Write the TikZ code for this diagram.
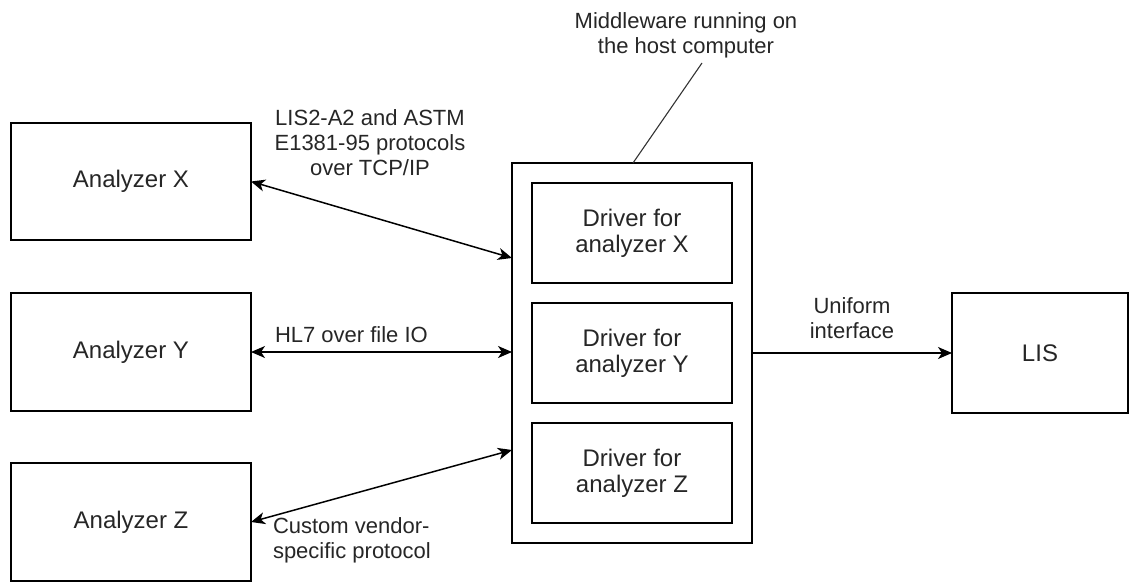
\documentclass[tikz,border=0pt]{standalone}
\usepackage{fontspec}
\setmainfont{Liberation Sans}
\usetikzlibrary{arrows.meta}
\tikzset{
  box/.style={draw, line width=1.5pt, inner sep=0pt, outer sep=0pt, align=center,
    text=black!85, font=\fontsize{24}{26}\selectfont},
  lbl/.style={inner sep=0pt, outer sep=0pt, text=black!85,
    font=\fontsize{22}{25}\selectfont},
  link/.style={line width=1.5pt},
  tip/.style={-{Stealth[length=14pt,width=12pt,inset=4pt]}},
  tips/.style={{Stealth[length=14pt,width=12pt,inset=4pt]}-{Stealth[length=14pt,width=12pt,inset=4pt]}}
}
\begin{document}
\begin{tikzpicture}[x=1pt,y=-1pt]
\useasboundingbox (0,0) rectangle (1130,583);

% analyzers on the left
\node[box, minimum width=240pt, minimum height=117pt] (ax) at (131,181.5) {Analyzer X};
\node[box, minimum width=240pt, minimum height=118pt] (ay) at (131,352) {Analyzer Y};
\node[box, minimum width=240pt, minimum height=118pt] (az) at (131,522) {Analyzer Z};

% middleware with its drivers
\node[box, minimum width=240pt, minimum height=380pt] (mw) at (632,353) {};
\node[box, minimum width=200pt, minimum height=100pt] (dx) at (632,233) {Driver for\\analyzer X};
\node[box, minimum width=200pt, minimum height=100pt] (dy) at (632,353) {Driver for\\analyzer Y};
\node[box, minimum width=200pt, minimum height=100pt] (dz) at (632,473) {Driver for\\analyzer Z};

% laboratory information system
\node[box, minimum width=176pt, minimum height=120pt] (lis) at (1040,353) {LIS};

% connection points on the middleware border
\coordinate (mxin) at (512,258);
\coordinate (mzin) at (512,450);
\coordinate (mtop) at (633,163);
\coordinate (note) at (702,63);

% protocol links
\draw[link, tips] (ax.east) -- (mxin);
\draw[link, tips] (ay.east) -- (ay.east -| mw.west);
\draw[link, tips] (az.east) -- (mzin);
\draw[link, tip] (lis.west -| mw.east) -- (lis.west);
\draw[line width=1.1pt, black!80] (mtop) -- (note);

% labels
\node[lbl, align=center] (lx) at (370,143) {LIS2-A2 and ASTM\\E1381-95 protocols\\over TCP/IP};
\node[lbl, anchor=west] (ly) at (275,335) {HL7 over file IO};
\node[lbl, anchor=west, align=left] (lz) at (273,540.5) {Custom vendor-\\specific protocol};
\node[lbl, align=center] (lu) at (852,318.5) {Uniform\\interface};
\node[lbl, align=center] (lm) at (686,35) {Middleware running on\\the host computer};
\end{tikzpicture}
\end{document}
